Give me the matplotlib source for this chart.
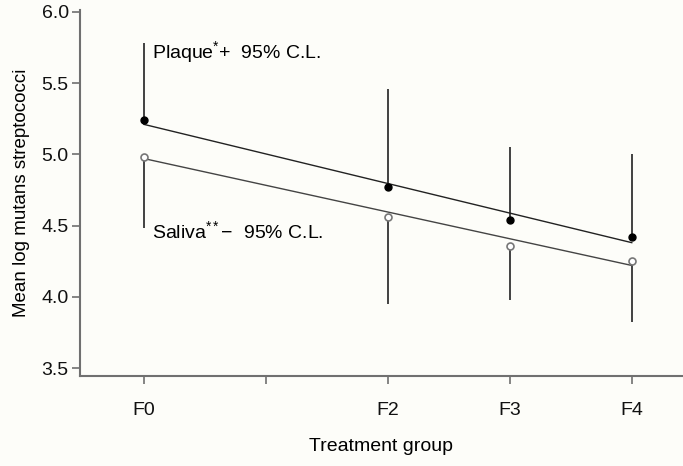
import matplotlib
matplotlib.use('Agg')
import matplotlib.pyplot as plt

plt.rcParams['font.family'] = ['Liberation Sans', 'DejaVu Sans']
plt.rcParams['mathtext.fontset'] = 'custom'
plt.rcParams['mathtext.rm'] = 'Liberation Sans'
plt.rcParams['mathtext.it'] = 'Liberation Sans'

# treatment groups on a 0..4 scale (F1 has no data, only a tick)
x_pos = [0, 2, 3, 4]
tick_pos = [0, 1, 2, 3, 4]
tick_labels = ['F0', '', 'F2', 'F3', 'F4']

plaque_mean = [5.24, 4.77, 4.54, 4.42]
plaque_upper = [5.78, 5.46, 5.05, 5.00]
saliva_mean = [4.98, 4.56, 4.36, 4.25]
saliva_lower = [4.48, 3.95, 3.98, 3.82]

# fitted lines, read at F0 and F4
fit_x = [0, 4]
plaque_fit = [5.21, 4.38]
saliva_fit = [4.97, 4.22]

bg = '#fdfdf9'
grey = '#707070'

fig = plt.figure(figsize=(6.83, 4.66), dpi=100, facecolor=bg)
ax = fig.add_axes([0.117, 0.193, 0.883, 0.786], facecolor=bg)

ax.vlines(x_pos, plaque_mean, plaque_upper, color='#333333', lw=1.3, zorder=2)
ax.vlines(x_pos, saliva_lower, saliva_mean, color='#333333', lw=1.3, zorder=2)
ax.plot(fit_x, plaque_fit, color='#222222', lw=1.0, zorder=3)
ax.plot(fit_x, saliva_fit, color='#444444', lw=1.0, zorder=3)
ax.plot(x_pos, plaque_mean, 'o', color='black', ms=5, zorder=4)
ax.plot(x_pos, saliva_mean, 'o', mfc='white', mec='#777777', mew=1.2, ms=5, zorder=4)

ax.text(0.07, 5.72, 'Plaque$^{*}$+  95% C.L.', fontsize=14, va='center')
ax.text(0.07, 4.46, 'Saliva$^{**}$\u2212  95% C.L.', fontsize=14, va='center')

ax.set_xlim(-0.525, 4.42)
ax.set_ylim(3.444, 6.014)
ax.set_yticks([3.5, 4.0, 4.5, 5.0, 5.5, 6.0])
ax.set_yticklabels(['3.5', '4.0', '4.5', '5.0', '5.5', '6.0'])
ax.set_xticks(tick_pos)
ax.set_xticklabels(tick_labels)

for s in ['top', 'right']:
    ax.spines[s].set_visible(False)
for s in ['left', 'bottom']:
    ax.spines[s].set_color(grey)
    ax.spines[s].set_linewidth(1.5)
ax.tick_params(axis='both', direction='out', length=6, width=1.2, color=grey,
               labelsize=14, labelcolor='#111111')
ax.tick_params(axis='x', pad=13)
ax.tick_params(axis='y', pad=2)

ax.set_xlabel('Treatment group', fontsize=14, labelpad=13)
ax.set_ylabel('Mean log mutans streptococci', fontsize=13.5, labelpad=8)

fig.savefig('out.png', dpi=100, facecolor=bg)
